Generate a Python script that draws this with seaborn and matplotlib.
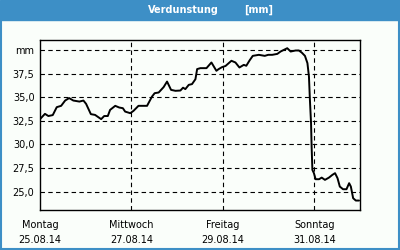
import matplotlib
matplotlib.use("Agg")
import matplotlib.pyplot as plt
import matplotlib.patches as mpatches
from matplotlib.ticker import FixedLocator, FixedFormatter
import seaborn as sns
import numpy as np

# hours since Monday 25.08.14 00:00
hours = [0.0, 2.6, 4.4, 6.7, 8.8, 11.1, 13.2, 15.3, 17.5, 20.7, 22.8, 24.2, 26.7, 28.9,
         32.1, 33.7, 35.6, 36.8, 39.5, 41.6, 43.5, 44.7, 47.4, 49.1, 51.7, 56.2, 58.8,
         60.2, 62.3, 64.9, 66.7, 68.8, 71.1, 73.7, 75.1, 76.3, 78.1, 79.8, 81.6, 82.5,
         84.2, 87.4, 90.0, 92.6, 93.8, 95.6, 97.4, 100.5, 102.6, 104.7, 107.0, 108.3,
         110.0, 111.7, 114.9, 118.0, 119.8, 121.9, 124.6, 126.3, 128.0, 129.8, 131.6,
         134.2, 135.9, 137.4, 139.1, 140.4, 141.2, 141.7, 142.3, 142.6, 143.0, 143.8,
         144.7, 146.5, 147.9, 149.6, 151.7, 153.5, 154.9, 156.2, 157.4, 159.1, 160.9,
         162.3, 163.2, 164.4, 165.8, 167.5]
values = [32.67, 33.23, 33.0, 33.1, 33.94, 34.08, 34.64, 34.9, 34.64, 34.53, 34.64, 34.29,
          33.2, 33.12, 32.67, 33.0, 33.0, 33.65, 34.08, 33.9, 33.83, 33.47, 33.3, 33.55,
          34.08, 34.08, 35.06, 35.42, 35.49, 36.06, 36.65, 35.77, 35.67, 35.7, 36.0, 35.85,
          36.3, 36.38, 36.9, 37.97, 38.07, 38.07, 38.67, 37.79, 37.97, 38.18, 38.3, 38.85,
          38.67, 38.14, 38.42, 38.32, 38.88, 39.37, 39.48, 39.37, 39.48, 39.48, 39.58,
          39.83, 40.0, 40.18, 39.83, 39.94, 39.94, 39.72, 39.37, 38.6, 37.18, 34.71, 32.24,
          29.77, 27.3, 26.95, 26.31, 26.31, 26.48, 26.24, 26.48, 26.77, 26.95, 26.42,
          25.53, 25.25, 25.25, 25.89, 25.53, 24.3, 24.05, 24.05]

xtick_pos = [0, 48, 96, 144]
xtick_labels = ["Montag\n25.08.14", "Mittwoch\n27.08.14", "Freitag\n29.08.14", "Sonntag\n31.08.14"]
xminor_pos = [24, 72, 120, 168]
ytick_pos = [25.0, 27.5, 30.0, 32.5, 35.0, 37.5, 40.0]
ytick_labels = ["25,0", "27,5", "30,0", "32,5", "35,0", "37,5", "mm"]
title_main = "Verdunstung"
title_unit = "[mm]"

BLUE = "#3D8FC6"
BG = "#FAFEFA"

sns.set_style("white")
plt.rcParams["font.family"] = ["DejaVu Sans"]

fig = plt.figure(figsize=(4, 2.5), dpi=100, facecolor=BG)
ax = fig.add_axes([0.1, 0.16, 0.8, 0.68])
ax.set_facecolor(BG)

# grid
for y in ytick_pos:
    ax.axhline(y, color="black", lw=0.8, dashes=(4, 3), zorder=1)
for x in xtick_pos[1:]:
    ax.axvline(x, color="black", lw=0.8, dashes=(4, 3), zorder=1)

sns.lineplot(x=hours, y=values, ax=ax, color="black", lw=1.4, zorder=3)

ax.set_xlim(0, 168)
ax.set_ylim(23.05, 41.05)
ax.xaxis.set_major_locator(FixedLocator(xtick_pos))
ax.xaxis.set_major_formatter(FixedFormatter(xtick_labels))
ax.xaxis.set_minor_locator(FixedLocator(xminor_pos))
ax.yaxis.set_major_locator(FixedLocator(ytick_pos))
ax.yaxis.set_major_formatter(FixedFormatter(ytick_labels))
ax.tick_params(axis="x", which="major", direction="in", length=0, pad=7, labelsize=7, colors="black")
ax.tick_params(axis="x", which="minor", direction="in", length=3, width=0.8, color="black")
ax.tick_params(axis="y", which="major", length=0, pad=4, labelsize=7, colors="black")
for lab in ax.get_xticklabels():
    lab.set_linespacing(1.6)
for s in ax.spines.values():
    s.set_color("black")
    s.set_linewidth(1.0)
ax.set_xlabel("")
ax.set_ylabel("")

# header bar and frame
fig.patches.append(mpatches.Rectangle((0, 0.92), 1, 0.08, transform=fig.transFigure,
                                      color=BLUE, zorder=0))
fig.patches.append(mpatches.Rectangle((0.0025, 0.006), 0.995, 0.92, transform=fig.transFigure,
                                      fill=False, edgecolor=BLUE, lw=1.5, zorder=0))
fig.text(183 / 400, 1 - 10 / 250, title_main, color="white", fontsize=7, fontweight="bold",
         ha="center", va="center")
fig.text(259 / 400, 1 - 10 / 250, title_unit, color="white", fontsize=7, fontweight="bold",
         ha="center", va="center")

fig.savefig("out.png", dpi=100, facecolor=BG)
